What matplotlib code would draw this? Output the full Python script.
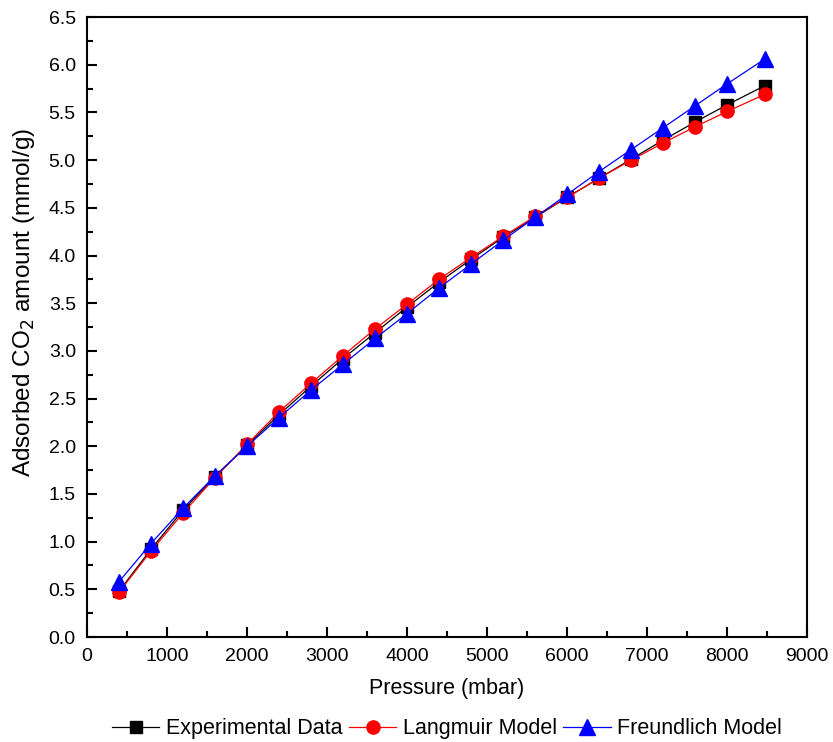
import matplotlib.pyplot as plt
from matplotlib.ticker import MultipleLocator

plt.rcParams['font.family'] = ['Liberation Sans', 'DejaVu Sans']

# Pressure points (mbar)
pressure = [400, 800, 1200, 1600, 2000, 2400, 2800, 3200, 3600, 4000, 4400,
            4800, 5200, 5600, 6000, 6400, 6800, 7200, 7600, 8000, 8470]

# Adsorbed CO2 amount (mmol/g)
experimental = [0.48, 0.92, 1.33, 1.68, 2.01, 2.33, 2.63, 2.92, 3.19, 3.46, 3.72,
                3.96, 4.19, 4.40, 4.61, 4.81, 5.01, 5.21, 5.40, 5.58, 5.78]
langmuir = [0.47, 0.90, 1.30, 1.67, 2.02, 2.36, 2.66, 2.95, 3.23, 3.49, 3.75,
            3.98, 4.20, 4.41, 4.61, 4.81, 5.00, 5.18, 5.35, 5.51, 5.69]
freundlich = [0.58, 0.98, 1.35, 1.69, 2.00, 2.30, 2.59, 2.86, 3.13, 3.39, 3.66,
              3.91, 4.16, 4.40, 4.64, 4.88, 5.11, 5.34, 5.57, 5.80, 6.06]

fig = plt.figure(figsize=(8.33, 7.42), dpi=100)
ax = fig.add_axes([0.1044, 0.1415, 0.8646, 0.8355])

ax.plot(pressure, experimental, color="black", lw=0.9, marker="s", ms=8,
        label="Experimental Data")
ax.plot(pressure, langmuir, color="red", lw=0.9, marker="o", ms=9.5,
        label="Langmuir Model")
ax.plot(pressure, freundlich, color="blue", lw=0.9, marker="^", ms=11,
        label="Freundlich Model")

ax.set_xlim(0, 9000)
ax.set_ylim(0, 6.5)
ax.xaxis.set_major_locator(MultipleLocator(1000))
ax.xaxis.set_minor_locator(MultipleLocator(500))
ax.yaxis.set_major_locator(MultipleLocator(0.5))
ax.yaxis.set_minor_locator(MultipleLocator(0.25))
ax.yaxis.set_major_formatter(plt.FormatStrFormatter("%.1f"))

ax.tick_params(which="major", direction="in", length=7, width=1.5,
               labelsize=14, pad=8)
ax.tick_params(which="minor", direction="in", length=4, width=1.5)
for s in ax.spines.values():
    s.set_linewidth(1.5)

ax.set_xlabel("Pressure (mbar)", fontsize=15.5, labelpad=9)
ax.set_ylabel("Adsorbed CO$_2$ amount (mmol/g)", fontsize=17.5)
ax.yaxis.set_label_coords(-0.07, 0.54)

ax.legend(loc="upper center", bbox_to_anchor=(0.5, -0.1), ncol=3,
          frameon=False, fontsize=15.5, handlelength=2.2, columnspacing=0.3,
          handletextpad=0.3)

fig.savefig("out.png", dpi=100)
